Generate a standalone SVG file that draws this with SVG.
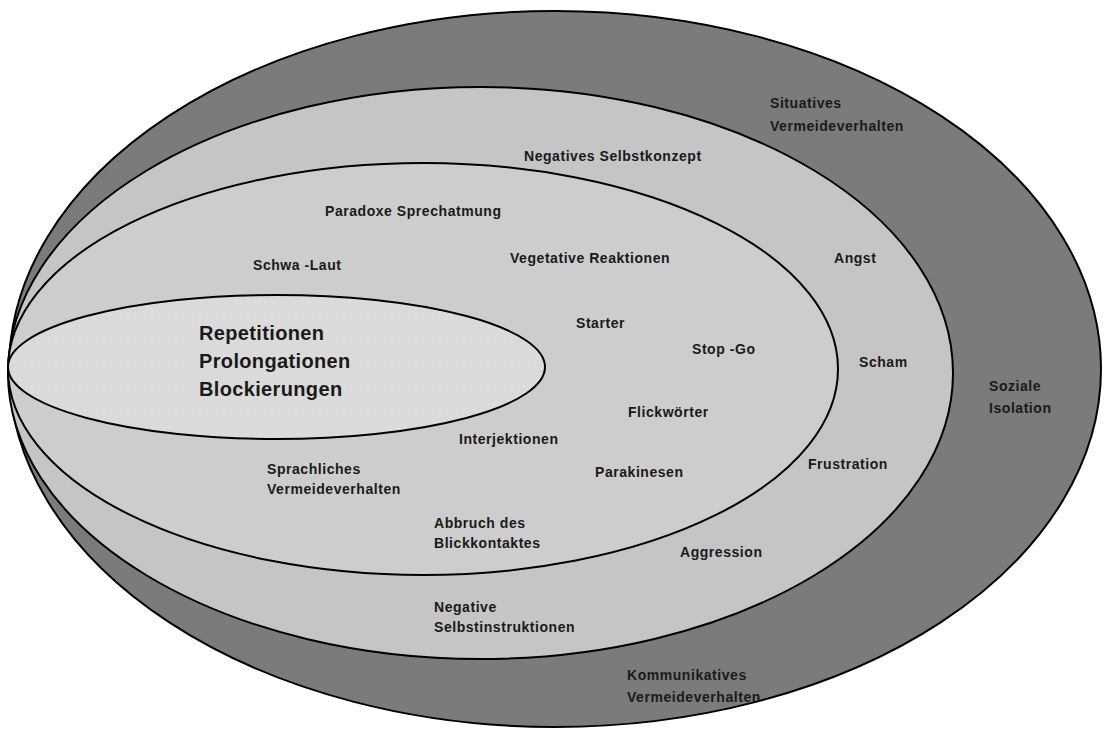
<svg xmlns="http://www.w3.org/2000/svg" width="1104" height="729" viewBox="0 0 1104 729">
<defs>
<pattern id="dots" width="6" height="6" patternUnits="userSpaceOnUse">
<rect width="6" height="6" fill="#dadada"/>
<circle cx="2" cy="2" r="0.6" fill="#f2f2f2"/>
</pattern>
<style>
.ring{stroke:#000;stroke-width:2}
.t{font-family:"Liberation Sans",Arial,sans-serif;font-weight:bold;font-size:14px;letter-spacing:0.55px;fill:#1a1a1a}
.big{font-family:"Liberation Sans",Arial,sans-serif;font-weight:bold;font-size:20px;letter-spacing:0.35px;fill:#1a1a1a}
</style>
</defs>
<rect width="1104" height="729" fill="#fff"/>
<g id="outer">
<ellipse class="ring" cx="555" cy="369" rx="546" ry="358" fill="#7b7b7b"/>
<text class="t" x="770" y="108">Situatives</text>
<text class="t" x="770" y="131">Vermeideverhalten</text>
<text class="t" x="989" y="391">Soziale</text>
<text class="t" x="989" y="413">Isolation</text>
<text class="t" x="627" y="680">Kommunikatives</text>
<text class="t" x="627" y="702">Vermeideverhalten</text>
</g>
<g id="second">
<ellipse class="ring" cx="480.5" cy="373" rx="472.5" ry="286" fill="#c5c5c5"/>
<text class="t" x="524" y="161">Negatives Selbstkonzept</text>
<text class="t" x="834" y="263">Angst</text>
<text class="t" x="859" y="367">Scham</text>
<text class="t" x="808" y="469">Frustration</text>
<text class="t" x="680" y="557">Aggression</text>
<text class="t" x="434" y="612">Negative</text>
<text class="t" x="434" y="632">Selbstinstruktionen</text>
</g>
<g id="third">
<ellipse class="ring" cx="423" cy="369" rx="415" ry="206" fill="#cdcdcd"/>
<text class="t" x="325" y="216">Paradoxe Sprechatmung</text>
<text class="t" x="253" y="270">Schwa -Laut</text>
<text class="t" x="510" y="263">Vegetative Reaktionen</text>
<text class="t" x="576" y="328">Starter</text>
<text class="t" x="692" y="354">Stop -Go</text>
<text class="t" x="628" y="417">Flickwörter</text>
<text class="t" x="459" y="444">Interjektionen</text>
<text class="t" x="267" y="474">Sprachliches</text>
<text class="t" x="267" y="494">Vermeideverhalten</text>
<text class="t" x="595" y="477">Parakinesen</text>
<text class="t" x="434" y="528">Abbruch des</text>
<text class="t" x="434" y="548">Blickkontaktes</text>
</g>
<g id="core">
<ellipse class="ring" cx="276.5" cy="367" rx="268.5" ry="72" fill="url(#dots)"/>
<text class="big" x="199" y="340">Repetitionen</text>
<text class="big" x="199" y="368">Prolongationen</text>
<text class="big" x="199" y="396">Blockierungen</text>
</g>
<g id="connectors"/>
</svg>
